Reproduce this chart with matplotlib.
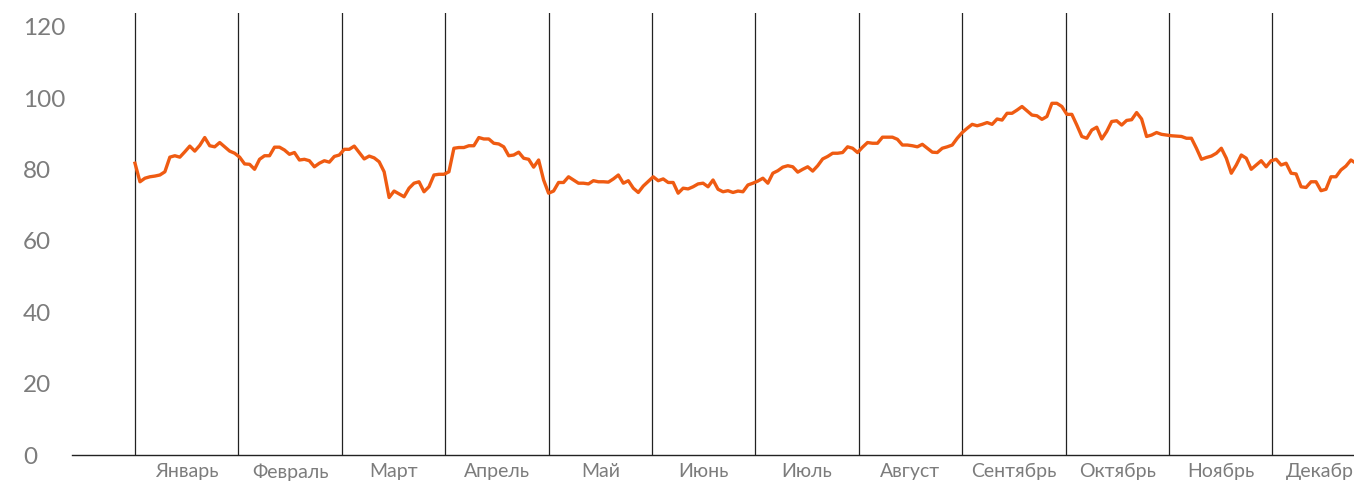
import numpy as np
import matplotlib
matplotlib.use("Agg")
import matplotlib.pyplot as plt

months = ["Январь", "Февраль", "Март", "Апрель", "Май", "Июнь",
          "Июль", "Август", "Сентябрь", "Октябрь", "Ноябрь", "Декабрь"]
y_ticks = [0, 20, 40, 60, 80, 100, 120]

# daily (trading-day) values
jan = [81.8, 76.6, 77.6, 78.0, 78.2, 78.5, 79.4, 83.5, 83.9, 83.5, 85.0, 86.6, 85.2, 86.8,
       89.0, 86.7, 86.4, 87.6, 86.4, 85.2, 84.6]
feb = [83.5, 81.6, 81.5, 80.1, 82.9, 83.9, 83.9, 86.3, 86.3, 85.5, 84.3, 84.8, 82.7, 82.9,
       82.5, 80.8, 81.8, 82.5, 82.1, 83.7, 84.1]
mar = [85.7, 85.7, 86.6, 84.8, 83.0, 83.8, 83.3, 82.2, 79.4, 72.2, 74.0, 73.2, 72.4, 74.8,
       76.2, 76.6, 73.8, 75.2, 78.5, 78.7, 78.7]
apr = [79.4, 86.0, 86.2, 86.2, 86.7, 86.7, 89.0, 88.6, 88.6, 87.4, 87.2, 86.4, 83.9, 84.1,
       84.9, 83.2, 82.9, 80.7, 82.7, 77.1]
may = [73.4, 74.0, 76.4, 76.4, 78.0, 77.1, 76.2, 76.2, 76.0, 76.9, 76.6, 76.6, 76.5, 77.4,
       78.5, 76.2, 76.9, 74.8, 73.6, 75.4, 76.7]
jun = [78.0, 76.9, 77.4, 76.4, 76.4, 73.4, 74.8, 74.6, 75.2, 76.0, 76.2, 75.2, 77.1, 74.5,
       73.8, 74.1, 73.6, 74.0, 73.8, 75.7, 76.2]
jul = [76.8, 77.6, 76.2, 79.0, 79.7, 80.7, 81.1, 80.8, 79.3, 80.1, 80.8, 79.6, 81.1, 83.0,
       83.7, 84.6, 84.6, 84.8, 86.4, 86.0]
aug = [84.8, 86.3, 87.6, 87.4, 87.4, 89.1, 89.1, 89.1, 88.5, 86.9, 86.9, 86.7, 86.4, 87.1,
       86.0, 84.9, 84.8, 86.0, 86.4, 86.9, 88.8]
sep = [90.4, 91.6, 92.7, 92.3, 92.7, 93.2, 92.7, 94.2, 93.9, 95.8, 95.8, 96.7, 97.7, 96.5,
       95.3, 95.1, 94.1, 94.9, 98.6, 98.6, 97.7]
oct_ = [95.5, 95.5, 92.5, 89.3, 88.8, 91.1, 91.9, 88.6, 90.7, 93.5, 93.7, 92.5, 93.8, 94.0,
        96.0, 94.2, 89.3, 89.7, 90.4, 89.9]
nov = [89.7, 89.5, 89.4, 89.3, 88.8, 88.8, 86.0, 82.9, 83.4, 83.8, 84.6, 86.0, 83.2, 79.0,
       81.3, 84.1, 83.2, 80.1, 81.3, 82.5, 80.8]
dec = [82.5, 82.9, 81.3, 81.8, 79.0, 78.8, 75.2, 75.0, 76.6, 76.6, 74.1, 74.5, 78.0, 78.0,
       79.9, 81.0, 82.7, 81.8]

values = np.array(jan + feb + mar + apr + may + jun + jul + aug + sep + oct_ + nov + dec)
days_per_month = 20.75
x = np.arange(len(values)) / days_per_month

fam = "Lato"
txt_color = "#7c7c7c"

W, H = 1354, 483
fig = plt.figure(figsize=(W / 100, H / 100), dpi=100)
left = 72 / W
bottom = (H - 455) / H
top = (H - 12.7) / H
ax = fig.add_axes([left, bottom, 1 - left, top - bottom])

ax.set_xlim(-0.609, 11.789)
ax.set_ylim(0, 124)

for m in range(12):
    ax.axvline(m, color="#222222", lw=0.9, zorder=1)

ax.plot(x, values, color="#EF5B12", lw=2.4, zorder=3, solid_joinstyle="round")

for s in ("left", "right", "top"):
    ax.spines[s].set_visible(False)
ax.spines["bottom"].set_color("#222222")
ax.spines["bottom"].set_linewidth(1.0)

ax.set_yticks(y_ticks)
ax.set_yticklabels([str(v) for v in y_ticks], fontsize=17.5, color=txt_color,
                   family=fam, ha="left")
ax.tick_params(axis="y", length=0, pad=35.3)

ax.set_xticks(np.arange(12) + 0.5)
ax.set_xticklabels(months, fontsize=14, color=txt_color, family=fam)
ax.tick_params(axis="x", length=0, pad=6)

fig.savefig("out.png", dpi=100)
